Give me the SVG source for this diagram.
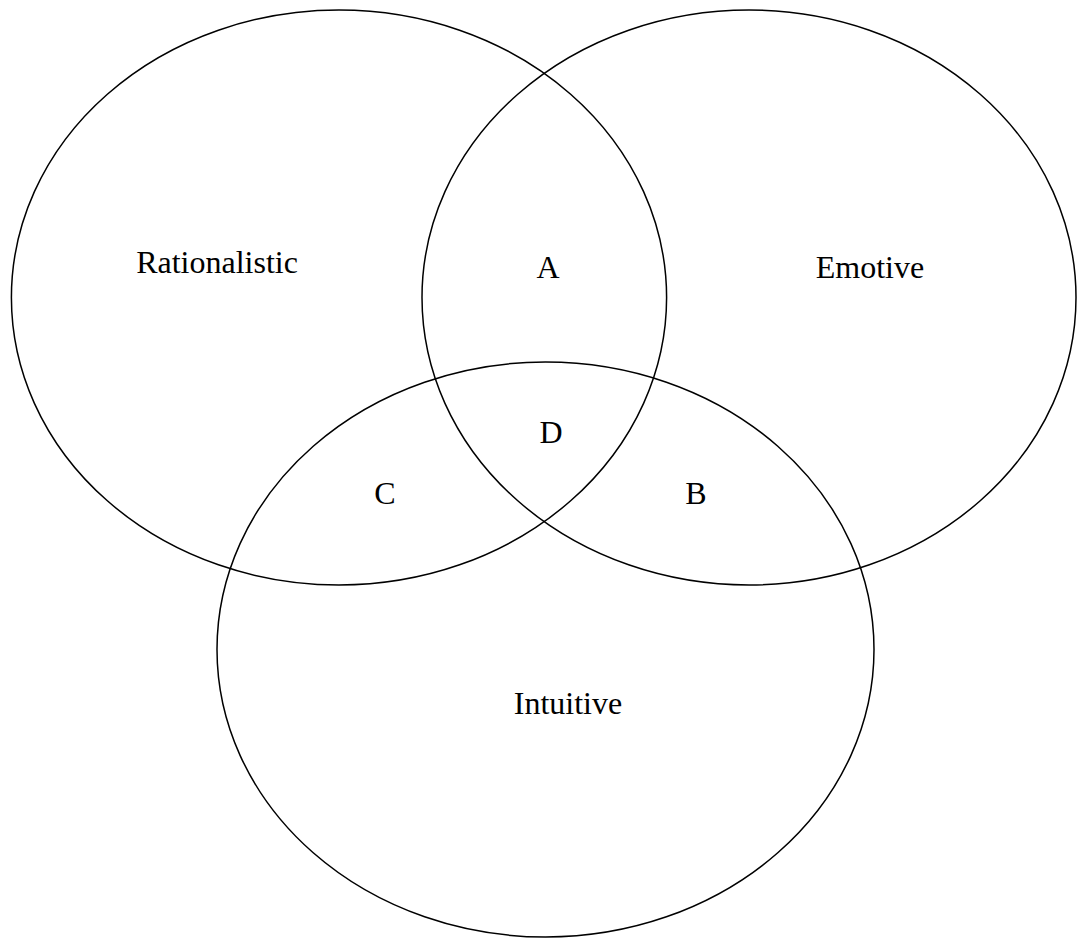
<svg xmlns="http://www.w3.org/2000/svg" width="1078" height="939" viewBox="0 0 1078 939">
<style>
.c{fill:none;stroke:#000;stroke-width:1.5}
.t{font-family:"Liberation Serif","Times New Roman",serif;font-size:32px;fill:#000;text-anchor:middle}
</style>
<rect width="1078" height="939" fill="#fff"/>
<g id="rationalistic"><ellipse class="c" cx="339" cy="297.5" rx="327.6" ry="287.5"/><text class="t" x="217" y="273">Rationalistic</text></g>
<g id="emotive"><ellipse class="c" cx="749" cy="297.5" rx="327" ry="287.5"/><text class="t" x="870" y="278">Emotive</text></g>
<g id="intuitive"><ellipse class="c" cx="545.5" cy="649.5" rx="328.5" ry="287.5"/><text class="t" x="568" y="714">Intuitive</text></g>
<g id="regions">
<text class="t" x="548" y="278">A</text>
<text class="t" x="551" y="443">D</text>
<text class="t" x="385" y="504">C</text>
<text class="t" x="696" y="504">B</text>
</g>
<g id="connectors"/>
</svg>
